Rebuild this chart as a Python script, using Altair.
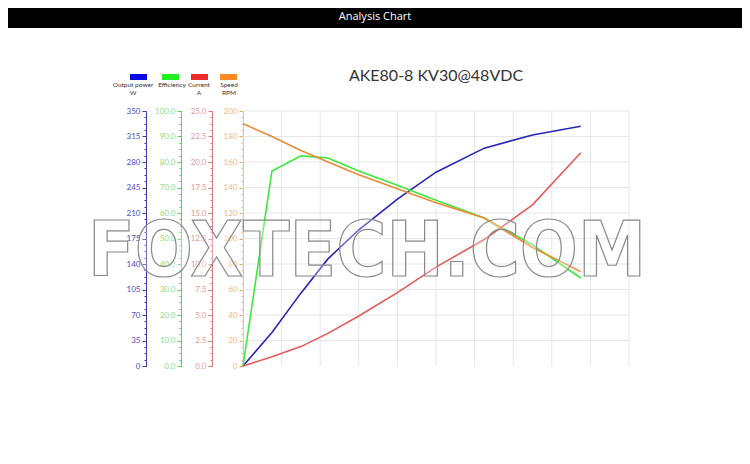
import altair as alt
import pandas as pd
import numpy as np

# ---------------- data ----------------
torque = [0, 3, 6, 8.8, 12, 16, 20, 25, 30, 35]
power = [0, 46, 100, 147, 187, 229, 266, 299, 317, 329]          # W
efficiency = [0, 76.5, 82.4, 81.6, 76.5, 70.9, 65.0, 58.0, 47.5, 34.5]  # %
current = [0, 0.9, 1.9, 3.2, 4.9, 7.2, 9.7, 12.4, 15.8, 20.9]     # A
speed = [190, 180, 169, 160, 150, 139, 128, 116, 93, 74]           # RPM

legend_names = ["Output power\nW", "Efficiency", "Current\nA", "Speed\nRPM"]
legend_colors = ["#0a0ae6", "#22ee22", "#ee2a2a", "#ff8a22"]

df = pd.DataFrame({"torque": torque, "power": power, "efficiency": efficiency,
                   "current": current, "speed": speed})

W, H = 386, 255
PAD_L, PAD_T = 235, 103
FONT = "Lato"

x_scale = alt.Scale(domain=[0, 40], nice=False, zero=True)
x_axis = alt.Axis(values=list(range(0, 41, 2)),
                  labelExpr="datum.value % 4 == 0 ? datum.label : ''",
                  grid=False, tickSize=4, tickColor="#333", domainColor="#333",
                  labelColor="#555", labelFontSize=8, labelFont=FONT,
                  title=["Torque", "N.m"], titleFontSize=9, titleFont=FONT,
                  titleFontWeight="normal", titleColor="#333", titlePadding=15,
                  labelPadding=3)
X = alt.X("torque:Q", scale=x_scale, axis=x_axis)

# series: field, max, major step, offset, line colour, axis colour, label colour, format
series = [
    ("power", 350, 35, 97, "#2626b8", "#3a3aaa", "#4d4dc4", "d"),
    ("efficiency", 100, 10, 62, "#3ce83c", "#44e044", "#86e086", ".1f"),
    ("current", 25, 2.5, 31, "#e25a5a", "#d97a7a", "#e09a9a", ".1f"),
    ("speed", 200, 20, 0, "#ee8a33", "#f2a04a", "#f5b87e", "d"),
]

layers = []

# grid lines
xgrid = pd.DataFrame({"torque": list(range(0, 41, 4))})
layers.append(alt.Chart(xgrid).mark_rule(color="#e6e6e6", strokeWidth=1).encode(
    x=alt.X("torque:Q", scale=x_scale, axis=None)))
ygrid = pd.DataFrame({"g": list(range(20, 201, 20))})
layers.append(alt.Chart(ygrid).mark_rule(color="#e6e6e6", strokeWidth=1).encode(
    y=alt.Y("g:Q", scale=alt.Scale(domain=[0, 200], nice=False), axis=None)))

for field, top, step, offset, lc, ac, tc, fmt in series:
    major = [round(float(v), 2) for v in np.arange(0, top + step / 2, step)]
    minor = [round(float(v), 3) for v in np.arange(0, top + step / 8, step / 4)]
    yscale = alt.Scale(domain=[0, top], nice=False, zero=True)
    layers.append(alt.Chart(df).mark_line(strokeOpacity=0).encode(
        x=X,
        y=alt.Y(f"{field}:Q", scale=yscale,
                axis=alt.Axis(orient="left", offset=offset, values=minor, labels=False,
                              domain=False, grid=False, ticks=True, tickSize=2,
                              tickColor=ac, title=None))))
    layers.append(alt.Chart(df).mark_line(color=lc, strokeWidth=1.6).encode(
        x=X,
        y=alt.Y(f"{field}:Q", scale=yscale,
                axis=alt.Axis(orient="left", offset=offset, values=major, format=fmt,
                              domainColor=ac, tickColor=ac, labelColor=tc, grid=False,
                              tickSize=4, labelFontSize=8, labelFont=FONT, labelPadding=2,
                              title=None))))

# watermark
wm = pd.DataFrame({"t": ["FOXTECH.COM"]})
layers.append(alt.Chart(wm).mark_text(
    font="DejaVu Sans Condensed, Liberation Sans Narrow, sans-serif", fontWeight="bold",
    fontSize=76, fill="white", fillOpacity=0.3, stroke="#8a8a8a", strokeWidth=1.2,
    align="center", baseline="alphabetic").encode(
    text="t:N", x=alt.value(124), y=alt.value(165)))

# header bar
hd = pd.DataFrame({"t": ["Analysis Chart"]})
layers.append(alt.Chart(hd).mark_rect(color="black").encode(
    x=alt.value(-PAD_L), x2=alt.value(W + 113), y=alt.value(-PAD_T), y2=alt.value(-83)))
layers.append(alt.Chart(hd).mark_text(color="white", fontSize=11, font="Open Sans").encode(
    text="t:N", x=alt.value(132), y=alt.value(-94)))

# chart title
tt = pd.DataFrame({"t": ["AKE80-8 KV30@48VDC"]})
layers.append(alt.Chart(tt).mark_text(fontSize=16, font=FONT, color="#333",
                                      baseline="alphabetic", align="center").encode(
    text="t:N", x=alt.value(W / 2), y=alt.value(-30)))

# custom legend
rect_x = [-113, -81, -52, -23]
text_x = [-110, -71, -44, -14]
for name, col, rx, tx in zip(legend_names, legend_colors, rect_x, text_x):
    d = pd.DataFrame({"t": [name]})
    layers.append(alt.Chart(d).mark_rect(color=col).encode(
        x=alt.value(rx), x2=alt.value(rx + 17), y=alt.value(-37), y2=alt.value(-31)))
    layers.append(alt.Chart(d).mark_text(fontSize=6.5, font=FONT, color="#333",
                                         lineBreak="\n", baseline="top", lineHeight=8,
                                         align="center").encode(
        text="t:N", x=alt.value(tx), y=alt.value(-29)))

chart = alt.layer(*layers).resolve_scale(y="independent").properties(
    width=W, height=H,
    autosize=alt.AutoSizeParams(type="none"),
    padding={"left": PAD_L, "top": PAD_T, "right": 113, "bottom": 90},
).configure_view(stroke=None)

chart.save("out.html", embed_options={"renderer": "svg", "actions": False})
